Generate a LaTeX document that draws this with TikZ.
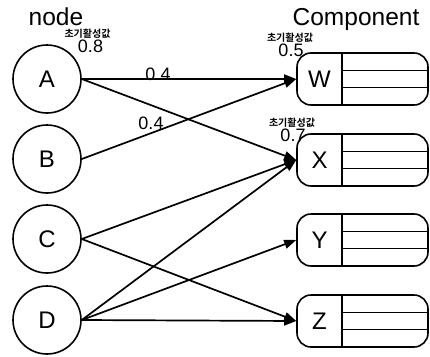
\documentclass[tikz,border=0pt]{standalone}
\usepackage{fontspec}
\setmainfont{Liberation Sans}
\newfontfamily\krfont{Noto Sans CJK KR}[BoldFont={Noto Sans CJK KR Bold}]
\usetikzlibrary{arrows.meta}
\begin{document}
\begin{tikzpicture}[x=1pt,y=-1pt,
  circ/.style={circle, draw, line width=1.6pt, minimum size=68pt, inner sep=0pt, font=\fontsize{24}{24}\selectfont},
  comp/.style={draw, rounded corners=14pt, line width=1.6pt, minimum width=131pt, minimum height=52pt, inner sep=0pt},
  lett/.style={font=\fontsize{24}{24}\selectfont, inner sep=0pt},
  val/.style={font=\fontsize{18}{18}\selectfont, inner sep=0pt},
  kr/.style={font=\krfont\bfseries\fontsize{10}{10}\selectfont, inner sep=0pt},
  head/.style={font=\fontsize{24.5}{24.5}\selectfont, inner sep=0pt, anchor=base},
  arr/.style={line width=1.7pt, -{Triangle[length=12pt,width=9pt]}},
  divline/.style={line width=1.2pt}]
\useasboundingbox (0,0) rectangle (430,356);
\node[head] (t1) at (56,25) {node};
\node[head] (t2) at (356,25) {Component};
\node[circ] (A) at (47,79) {A};
\node[circ] (B) at (47,159) {B};
\node[circ] (C) at (47,239) {C};
\node[circ] (D) at (47,320) {D};
\foreach \n/\y in {W/79,X/160,Y/240,Z/321} {
  \node[comp] (\n) at (362.5,\y) {};
  \node[lett] (\n-l) at (319.5,\y) {\n};
  \draw[line width=1.4pt] (342,\y-26) -- (342,\y+26);
  \draw[divline] (342,\y-8.67) -- (428,\y-8.67);
  \draw[divline] (342,\y+8.67) -- (428,\y+8.67);
}
\draw[arr] (A.east) -- (W.west);
\draw[arr] (A.east) -- (X.west);
\draw[arr] (B.east) -- (W.west);
\draw[arr] (C.east) -- (X.west);
\draw[arr] (C.east) -- (Z.west);
\draw[arr] (D.east) -- (X.west);
\draw[arr] (D.east) -- (Y.west);
\draw[arr] (D.east) -- (Z.west);
\node[kr] (ka) at (87.5,34) {초기활성값};
\node[val] (va) at (90.5,46) {0.8};
\node[kr] (kw) at (290,38) {초기활성값};
\node[val] (vw) at (291,50) {0.5};
\node[kr] (kx) at (292,122.5) {초기활성값};
\node[val] (vx) at (293,135) {0.7};
\node[val] (w1) at (158,74) {0.4};
\node[val] (w2) at (151,123) {0.4};
\end{tikzpicture}
\end{document}
